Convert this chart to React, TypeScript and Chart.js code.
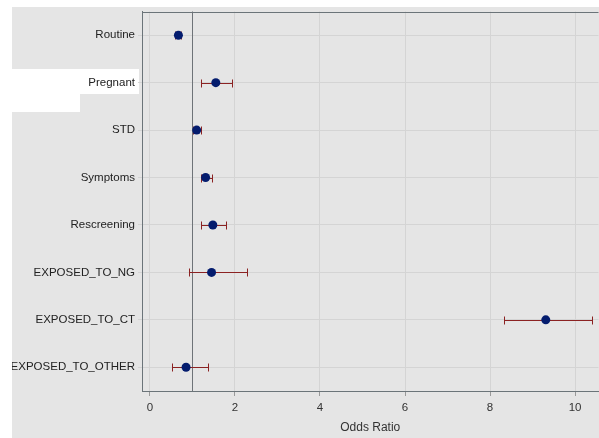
import React, { useEffect, useRef } from 'react';
import { Chart, registerables } from 'chart.js';
Chart.register(...registerables);

const categories = ['Routine', 'Pregnant', 'STD', 'Symptoms', 'Rescreening', 'EXPOSED_TO_NG', 'EXPOSED_TO_CT', 'EXPOSED_TO_OTHER'];
const oddsRatio = [0.67, 1.55, 1.10, 1.31, 1.48, 1.45, 9.31, 0.85];
const lowerCI = [0.60, 1.21, 1.01, 1.19, 1.21, 0.92, 8.33, 0.53];
const upperCI = [0.74, 1.94, 1.20, 1.45, 1.79, 2.28, 10.40, 1.36];
const xTicks = [0, 2, 4, 6, 8, 10];
const referenceValue = 1;
const xMin = -0.186;
const xMax = 10.55;

const FONT = "Arial, 'Liberation Sans', sans-serif";
const BORDER = '#6b7479';
const BAR = '#8b2222';

const forestPlugin = {
  id: 'forest',
  beforeDraw(chart: any) {
    const { ctx } = chart;
    ctx.save();
    ctx.fillStyle = '#e5e5e5';
    ctx.fillRect(0, 0, chart.width, chart.height);
    ctx.fillStyle = '#ffffff';
    ctx.fillRect(0, 62, 127, 25);
    ctx.fillRect(0, 87, 68, 18);
    ctx.restore();
  },
  beforeDatasetsDraw(chart: any) {
    const { ctx, chartArea } = chart;
    const x = chart.scales.x;
    const y = chart.scales.y;
    ctx.save();
    ctx.strokeStyle = BORDER;
    ctx.lineWidth = 1;
    ctx.beginPath();
    ctx.moveTo(chartArea.left, Math.round(chartArea.top) + 0.5);
    ctx.lineTo(chartArea.right, Math.round(chartArea.top) + 0.5);
    ctx.stroke();
    const rx = Math.round(x.getPixelForValue(referenceValue)) + 0.5;
    ctx.strokeStyle = '#6e7378';
    ctx.beginPath();
    ctx.moveTo(rx, chartArea.top);
    ctx.lineTo(rx, chartArea.bottom);
    ctx.stroke();
    ctx.strokeStyle = BAR;
    ctx.lineWidth = 1;
    categories.forEach((c, i) => {
      const py = Math.round(y.getPixelForValue(i)) + 0.5;
      const x1 = Math.round(x.getPixelForValue(lowerCI[i])) + 0.5;
      const x2 = Math.round(x.getPixelForValue(upperCI[i])) + 0.5;
      ctx.beginPath();
      ctx.moveTo(x1, py);
      ctx.lineTo(x2, py);
      ctx.moveTo(x1, py - 4);
      ctx.lineTo(x1, py + 4);
      ctx.moveTo(x2, py - 4);
      ctx.lineTo(x2, py + 4);
      ctx.stroke();
    });
    ctx.restore();
  },
};

export default function App() {
  const ref = useRef<HTMLCanvasElement>(null);
  useEffect(() => {
    if (!ref.current) return;
    const chart = new Chart(ref.current, {
      type: 'line',
      data: {
        labels: categories,
        datasets: [
          {
            data: oddsRatio,
            showLine: false,
            pointRadius: 4.5,
            pointBackgroundColor: '#041c6e',
            pointBorderColor: '#041c6e',
            pointBorderWidth: 0,
          },
        ],
      },
      options: {
        indexAxis: 'y',
        animation: false,
        responsive: false,
        maintainAspectRatio: false,
        layout: { padding: { top: 3, left: 0, right: 0, bottom: 0 } },
        plugins: { legend: { display: false }, tooltip: { enabled: false } },
        scales: {
          x: {
            type: 'linear',
            position: 'bottom',
            min: xMin,
            max: xMax,
            afterBuildTicks: (s: any) => {
              s.ticks = xTicks.map((v) => ({ value: v }));
            },
            afterFit: (s: any) => {
              s.height = 47;
              s.paddingLeft = 0;
              s.paddingRight = 0;
            },
            grid: { color: '#d4d4d4', lineWidth: 1, tickLength: 5, tickColor: '#9a9a9a' },
            border: { display: true, color: BORDER, width: 1 },
            ticks: { color: '#333', font: { family: FONT, size: 11.5 }, padding: 5, maxRotation: 0 },
            title: {
              display: true,
              text: 'Odds Ratio',
              color: '#333',
              font: { family: FONT, size: 12 },
              padding: { top: 0, bottom: 3 },
            },
          },
          y: {
            type: 'category',
            offset: true,
            afterFit: (s: any) => {
              s.width = 130;
              s.paddingTop = 0;
              s.paddingBottom = 0;
            },
            grid: { offset: false, color: '#d4d4d4', lineWidth: 1, tickLength: 4 },
            border: { display: true, color: BORDER, width: 1 },
            ticks: { color: '#222', font: { family: FONT, size: 11.5 }, padding: 3, autoSkip: false },
          },
        },
      },
      plugins: [forestPlugin],
    });
    return () => chart.destroy();
  }, []);

  return (
    <div style={{ position: 'fixed', left: 0, top: 0, width: 599, height: 438, overflow: 'hidden', background: '#fff' }}>
      <canvas ref={ref} width={591} height={431} style={{ position: 'absolute', left: 12, top: 7, width: 591, height: 431 }} />
    </div>
  );
}
